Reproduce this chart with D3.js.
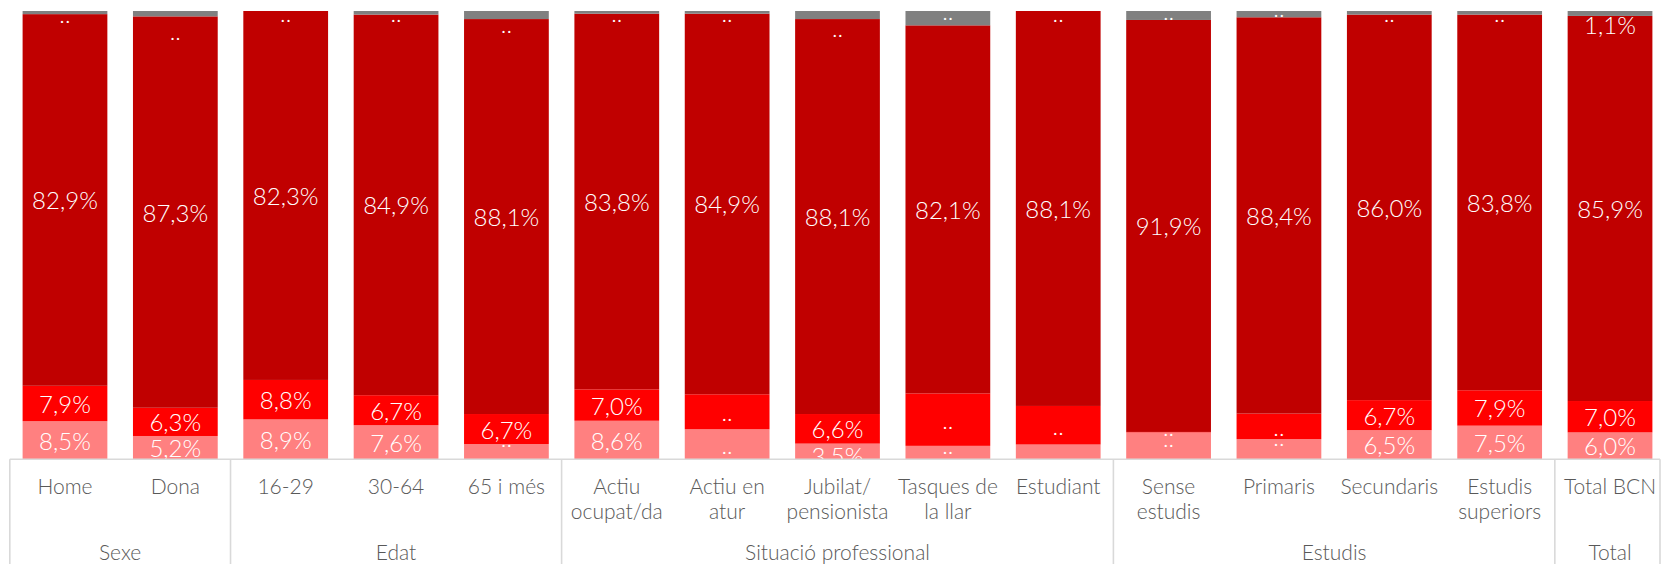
<!DOCTYPE html>
<html><head><meta charset="utf-8">
<script src="https://cdn.jsdelivr.net/npm/d3@7"></script>
<style>
html,body{margin:0;padding:0;background:#fff;}
svg{display:block;}
text{font-family:Lato,"Noto Sans",sans-serif;}
</style></head><body>
<svg id="chart" width="1661" height="564"></svg>
<script>
// ---------- DATA ----------
const categories = ["Home","Dona","16-29","30-64","65 i més","Actiu ocupat/da","Actiu en atur","Jubilat/ pensionista","Tasques de la llar","Estudiant","Sense estudis","Primaris","Secundaris","Estudis superiors","Total BCN"];
const categoryLines = [["Home"],["Dona"],["16-29"],["30-64"],["65 i més"],["Actiu","ocupat/da"],["Actiu en","atur"],["Jubilat/","pensionista"],["Tasques de","la llar"],["Estudiant"],["Sense","estudis"],["Primaris"],["Secundaris"],["Estudis","superiors"],["Total BCN"]];
const groups = ["Sexe","Edat","Situació professional","Estudis","Total"];
const groupOfCategory = [0,0,1,1,1,2,2,2,2,2,3,3,3,3,4];

// series, bottom to top (percent)
const pinkValues = [8.5,5.2,8.9,7.6,3.4,8.6,6.7,3.5,3.0,3.3,6.0,4.5,6.5,7.5,6.0];
const redValues  = [7.9,6.3,8.8,6.7,6.7,7.0,7.8,6.6,11.7,8.6,0.1,5.7,6.7,7.9,7.0];
const darkValues = [82.9,87.3,82.3,84.9,88.1,83.8,84.9,88.1,82.1,88.1,91.9,88.4,86.0,83.8,85.9];
const greyValues = [0.7,1.2,0.0,0.8,1.8,0.6,0.6,1.8,3.2,0.0,2.0,1.4,0.8,0.8,1.1];

// label status: 1 = value shown, 0 = ".." (not reliable), -1 = no label
const pinkShown = [1,1,1,1,0,1,0,1,0,-1,0,0,1,1,1];
const redShown  = [1,1,1,1,1,1,0,1,0,0,0,0,1,1,1];
const darkShown = [1,1,1,1,1,1,1,1,1,1,1,1,1,1,1];
const greyShown = [0,0,0,0,0,0,0,0,0,0,0,0,0,0,1];

// ---------- LAYOUT / STYLE ----------
const W = 1661, H = 564;
const colors = {pink:"#FF8080", red:"#FF0000", dark:"#C00000", grey:"#808080"};
const labelNudge = {
  grey: {0:1, 2:1.5, 9:1.5, 1:16.5, 4:8.8, 7:12, 8:-7.5, 10:-5.3, 11:-7, 14:11.5},
  pink: {4:-14, 7:4, 8:-8.1, 10:-8.5, 11:-12.8},
  red:  {10:-5.5},
  dark: {}
};

const keys = ["pink","red","dark","grey"];
const valueArrays = {pink:pinkValues, red:redValues, dark:darkValues, grey:greyValues};
const shownArrays = {pink:pinkShown, red:redShown, dark:darkShown, grey:greyShown};

const rows = categories.map((c,i)=>{
  const r = {category:c, index:i};
  keys.forEach(k=> r[k] = valueArrays[k][i]);
  return r;
});

const svg = d3.select("#chart");

const x = d3.scaleBand().domain(categories).range([9.8, 1665.2]).paddingInner(0.232).paddingOuter(0.116);
const y = d3.scaleLinear().domain([0,100]).range([459.3, 11]);

const stacked = d3.stack().keys(keys)(rows);

const loc = d3.formatLocale({decimal:",", thousands:".", grouping:[3], currency:["","€"]});
const fmt = v => loc.format(".1f")(v) + "%";

// bars
svg.append("g").selectAll("g").data(stacked).join("g")
  .attr("fill", d=>colors[d.key])
  .selectAll("rect").data(d=>d).join("rect")
  .attr("x", d=>x(d.data.category))
  .attr("width", x.bandwidth())
  .attr("y", d=>y(d[1]))
  .attr("height", d=>Math.max(0, y(d[0]) - y(d[1])));

// bar labels
const labG = svg.append("g").attr("fill","#fff").attr("font-size",24).attr("font-weight",300)
  .attr("text-anchor","middle");
stacked.forEach(layer=>{
  const k = layer.key;
  layer.forEach((d,i)=>{
    const s = shownArrays[k][i];
    if (s < 0) return;
    const cy = (y(d[0]) + y(d[1]))/2 + (labelNudge[k][i] || 0);
    labG.append("text")
      .attr("x", x(d.data.category) + x.bandwidth()/2)
      .attr("y", cy)
      .attr("dominant-baseline","central")
      .text(s ? fmt(d.data[k]) : "..");
  });
});

// axis lines
const gapHalf = (x.step() - x.bandwidth())/2;
const axisY = y(0);
const leftEdge = x(categories[0]) - gapHalf;
const rightEdge = Math.min(x(categories[categories.length-1]) + x.bandwidth() + gapHalf, W - 1);
const lineCol = "#D9D9D9";
const axG = svg.append("g").attr("stroke", lineCol).attr("stroke-width",1.6);
axG.append("line").attr("x1", leftEdge).attr("x2", rightEdge).attr("y1", axisY).attr("y2", axisY);

const seps = [leftEdge];
categories.forEach((c,i)=>{
  if (i>0 && groupOfCategory[i] !== groupOfCategory[i-1]) seps.push(x(c) - gapHalf);
});
seps.push(rightEdge);
axG.selectAll("line.sep").data(seps).join("line").attr("class","sep")
  .attr("x1", d=>d).attr("x2", d=>d).attr("y1", axisY).attr("y2", H);

// category labels
const catG = svg.append("g").attr("fill","#595959").attr("font-size",21).attr("font-weight",300)
  .attr("text-anchor","middle");
categories.forEach((c,i)=>{
  const t = catG.append("text").attr("x", x(c) + x.bandwidth()/2).attr("y", 494);
  categoryLines[i].forEach((ln,j)=>{
    t.append("tspan").attr("x", x(c) + x.bandwidth()/2).attr("dy", j===0 ? 0 : 25).text(ln);
  });
});

// group labels
groups.forEach((g,gi)=>{
  const members = categories.filter((c,i)=>groupOfCategory[i]===gi);
  const x0 = x(members[0]) - gapHalf;
  const x1 = x(members[members.length-1]) + x.bandwidth() + gapHalf;
  catG.append("text").attr("x", (x0+x1)/2).attr("y", 560).text(g);
});
</script>
</body></html>
